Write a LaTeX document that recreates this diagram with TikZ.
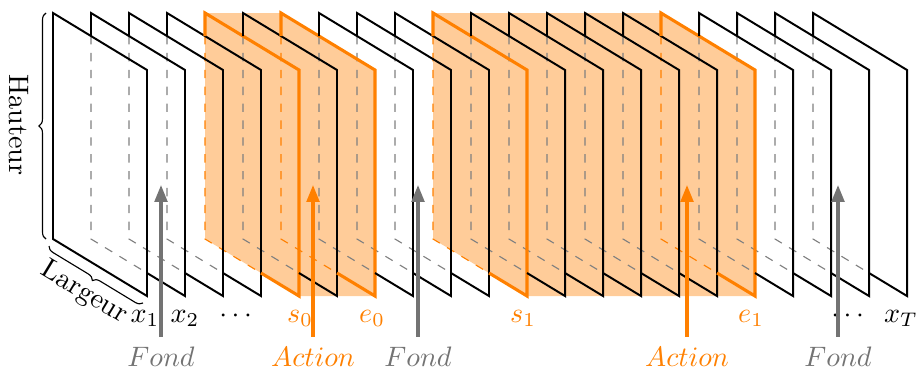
\documentclass[tikz,border=0pt]{standalone}
\usepackage{amsmath}
\usepackage{tikz}
\usetikzlibrary{arrows.meta,decorations.pathreplacing,calc}

\begin{document}
\begin{tikzpicture}[x=0.0125cm,y=-0.0125cm,
  plainframe/.style={draw=black,line width=0.7pt},
  keyframe/.style={draw=orange,line width=1.1pt},
  hid/.style={draw=gray,dashed,thin},
  keyhid/.style={draw=orange,dashed,thin},
  lab/.style={anchor=base},
  fond/.style={text=black!55,anchor=base},
  act/.style={text=orange,anchor=base},
  fondarr/.style={draw=black!55,line width=1.1pt,-{Triangle[length=6pt,width=4.5pt]}},
  actarr/.style={draw=orange,line width=1.1pt,-{Triangle[length=6pt,width=4.5pt]}},
  brc/.style={decorate,decoration={brace,amplitude=2.5pt}}]
  \useasboundingbox (0,0) rectangle (918,371);

  \fill[orange!40] (205,13) -- (281,13) -- (375,70) -- (375,296) -- (299,296) -- (205,239) -- cycle;
  \fill[orange!40] (433,13) -- (661,13) -- (755,70) -- (755,296) -- (527,296) -- (433,239) -- cycle;

  \foreach \k/\s [evaluate=\k as \x using 53+38*(\k-1)] in {2/hid,3/hid,4/hid,5/keyhid,6/hid,7/keyhid,8/hid,9/hid,10/hid,11/keyhid,12/hid,13/hid,14/hid,15/hid,16/hid,17/keyhid,18/hid,19/hid,20/hid,21/hid}
    \draw[\s] (\x,36) -- (\x,239) -- ++(56,34);

  \draw[plainframe] (53,13) -- ++(94,57) -- ++(0,226) -- ++(-94,-57) -- cycle;
  \foreach \k/\s [evaluate=\k as \x using 53+38*(\k-1)] in {2/plainframe,3/plainframe,4/plainframe,5/keyframe,6/plainframe,7/keyframe,8/plainframe,9/plainframe,10/plainframe,11/keyframe,12/plainframe,13/plainframe,14/plainframe,15/plainframe,16/plainframe,17/keyframe,18/plainframe,19/plainframe,20/plainframe,21/plainframe}
    \draw[\s] (\x,36) -- (\x,13) -- ++(94,57) -- ++(0,226) -- ++(-38,-23);

  \node[lab] (x1) at (145,322) {$x_1$};
  \node[lab] (x2) at (185,322) {$x_2$};
  \node[lab] (d1) at (238,322) {$\cdots$};
  \node[lab,text=orange] (s0) at (300,322) {$s_0$};
  \node[lab,text=orange] (e0) at (372,322) {$e_0$};
  \node[lab,text=orange] (s1) at (523,322) {$s_1$};
  \node[lab,text=orange] (e1) at (751,322) {$e_1$};
  \node[lab] (d2) at (850,322) {$\cdots$};
  \node[lab] (xT) at (901,322) {$x_T$};

  \node[fond] (fd1) at (161,366) {$Fond$};
  \node[act] (ac1) at (313,366) {$Action$};
  \node[fond] (fd2) at (418,366) {$Fond$};
  \node[act] (ac2) at (687,366) {$Action$};
  \node[fond] (fd3) at (838,366) {$Fond$};
  \coordinate (t1) at (161,185);
  \coordinate (t2) at (313,185);
  \coordinate (t3) at (418,185);
  \coordinate (t4) at (687,185);
  \coordinate (t5) at (838,185);
  \draw[fondarr] (fd1) -- (t1);
  \draw[actarr] (ac1) -- (t2);
  \draw[fondarr] (fd2) -- (t3);
  \draw[actarr] (ac2) -- (t4);
  \draw[fondarr] (fd3) -- (t5);

  \draw[brc] (46,239) -- (46,13);
  \node[rotate=-90] (ht) at (19,125) {Hauteur};
  \draw[brc] (143,303) -- (49,246);
  \node[rotate=-31.2] (lg) at (84,293) {Largeur};
\end{tikzpicture}
\end{document}
